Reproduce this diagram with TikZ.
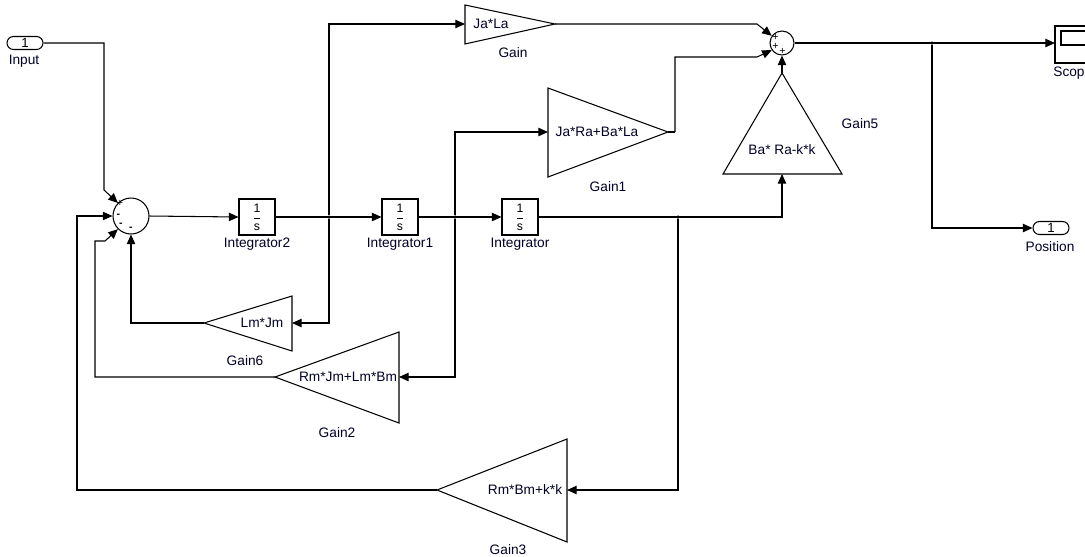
\documentclass[tikz,border=0pt]{standalone}
\usepackage{fontspec}
\setmainfont{Liberation Sans}
\usetikzlibrary{calc}
\usetikzlibrary{arrows.meta}
\usetikzlibrary{positioning}

\tikzset{
  wire/.style={line width=0.6pt},
  sig/.style={wire, -{Triangle[length=5.5pt,width=4.8pt]}},
  lbl/.style={font=\fontsize{7.8}{9}\selectfont, text=black!85!blue, inner sep=0pt},
  port/.style={draw, wire, rounded corners=0.13cm, minimum width=0.72cm,
    minimum height=0.26cm, inner sep=0pt, font=\fontsize{7.5}{9}\selectfont},
  intbox/.style={draw, wire, minimum size=0.72cm, inner sep=0pt,
    font=\fontsize{7}{8}\selectfont},
  sumc/.style={draw, circle, wire, inner sep=0pt},
  sgn/.style={font=\fontsize{6}{6}\selectfont, inner sep=0pt},
  dot/.style={circle, fill, inner sep=0pt, minimum size=2pt}
}

\begin{document}
\begin{tikzpicture}[x=0.02cm, y=-0.02cm]
    \useasboundingbox (0,0) rectangle (1085,556);

    % ports and scope
    \node[port] (in) at (25,43) {1};
    \node[lbl] (inname) at (24,61) {Input};
    \node[port] (pos) at (1051,228) {1};
    \node[lbl] (posname) at (1050,247) {Position};
    \draw[wire] (1085,26) -- (1055,26) -- (1055,63) -- (1085,63);
    \draw[wire] (1085,31) -- (1061,31) -- (1061,45) -- (1085,45);
    \coordinate (scp) at (1055,43);
    \node[lbl, anchor=west] (scpname) at (1053,73) {Scop};

    % sums
    \node[sumc, minimum size=0.72cm] (sum1) at (131,216) {};
    \node[sgn] at (120,203.5) {+};
    \node[sgn] at (118.5,215.5) {\textbf{-}};
    \node[sgn] at (121,224.5) {\textbf{-}};
    \node[sgn] at (131,229) {\textbf{-}};
    \node[sumc, minimum size=0.48cm] (sum2) at (782,43) {};
    \node[sgn] at (775.5,37.5) {+};
    \node[sgn] at (775.5,46) {+};
    \node[sgn] at (782.5,51) {+};

    % integrators
    \node[intbox] (int2) at (257,217) {$\displaystyle\frac{\mbox{1}}{\mbox{s}}$};
    \node[lbl] (int2name) at (257,244) {Integrator2};
    \node[intbox] (int1) at (400,217) {$\displaystyle\frac{\mbox{1}}{\mbox{s}}$};
    \node[lbl] (int1name) at (400,244) {Integrator1};
    \node[intbox] (int0) at (520,217) {$\displaystyle\frac{\mbox{1}}{\mbox{s}}$};
    \node[lbl] (int0name) at (520,244) {Integrator};

    % gains
    \draw[wire] (465,5) -- (555,24) -- (465,44) -- cycle;
    \coordinate (g0in) at (465,24);
    \coordinate (g0out) at (555,24);
    \node[lbl] (g0txt) at (491,24) {Ja*La};
    \node[lbl] (g0name) at (513,53) {Gain};

    \draw[wire] (548,88) -- (668,132) -- (548,177) -- cycle;
    \coordinate (g1in) at (548,132);
    \coordinate (g1out) at (668,132);
    \node[lbl] (g1txt) at (597,132) {Ja*Ra+Ba*La};
    \node[lbl] (g1name) at (608,187) {Gain1};

    \draw[wire] (782,73) -- (842,174) -- (723,174) -- cycle;
    \coordinate (g5in) at (782,174);
    \coordinate (g5out) at (782,73);
    \node[lbl] (g5txt) at (782,150) {Ba* Ra-k*k};
    \node[lbl] (g5name) at (860,124) {Gain5};

    \draw[wire] (292,296) -- (204,323) -- (292,351) -- cycle;
    \coordinate (g6in) at (292,323);
    \coordinate (g6out) at (204,323);
    \node[lbl] (g6txt) at (262,323) {Lm*Jm};
    \node[lbl] (g6name) at (245,361) {Gain6};

    \draw[wire] (399,332) -- (275,377) -- (399,423) -- cycle;
    \coordinate (g2in) at (399,377);
    \coordinate (g2out) at (275,377);
    \node[lbl] (g2txt) at (348,377) {Rm*Jm+Lm*Bm};
    \node[lbl] (g2name) at (337,433) {Gain2};

    \draw[wire] (567,439) -- (437,490) -- (567,542) -- cycle;
    \coordinate (g3in) at (567,490);
    \coordinate (g3out) at (437,490);
    \node[lbl] (g3txt) at (525,490) {Rm*Bm+k*k};
    \node[lbl] (g3name) at (508,550) {Gain3};

    % branch points
    \node[dot] (b1) at (329,217) {};
    \node[dot] (b2) at (455,217) {};
    \node[dot] (b3) at (678,217) {};
    \node[dot] (b4) at (932,43) {};

    % bends
    \coordinate (inbend) at (104,190);
    \coordinate (fbl) at (77,216);
    \coordinate (fbm) at (95,241);
    \coordinate (fbm2) at (105,241);
    \coordinate (s2a) at (757,24);
    \coordinate (g1bend) at (675,132);
    \coordinate (s2b) at (757,57);

    % forward path
    \draw[sig] (in.east) -| (inbend) -- (sum1.135);
    \draw[sig] (sum1.east) -- (int2.west);
    \draw[sig] (int2.east) -- (int1.west);
    \draw[sig] (int1.east) -- (int0.west);
    \draw[sig] (int0.east) -| (g5in);
    \draw[sig] (b1) |- (g0in);
    \draw[sig] (b2) |- (g1in);
    \draw[sig] (g0out) -- (s2a) -- (sum2.145);
    \draw[wire] (g1out) -- (g1bend);
    \draw[sig] (g1bend) |- (s2b) -- (sum2.215);
    \draw[sig] (g5out) -- (sum2.south);
    \draw[sig] (sum2.east) -- (scp);
    \draw[sig] (b4) |- (pos.west);

    % feedback
    \draw[sig] (b1) |- (g6in);
    \draw[sig] (b2) |- (g2in);
    \draw[sig] (b3) |- (g3in);
    \draw[sig] (g6out) -| (sum1.south);
    \draw[sig] (g2out) -| (fbm) -- (fbm2) -- (sum1.225);
    \draw[sig] (g3out) -| (fbl) -- (sum1.west);
\end{tikzpicture}
\end{document}
